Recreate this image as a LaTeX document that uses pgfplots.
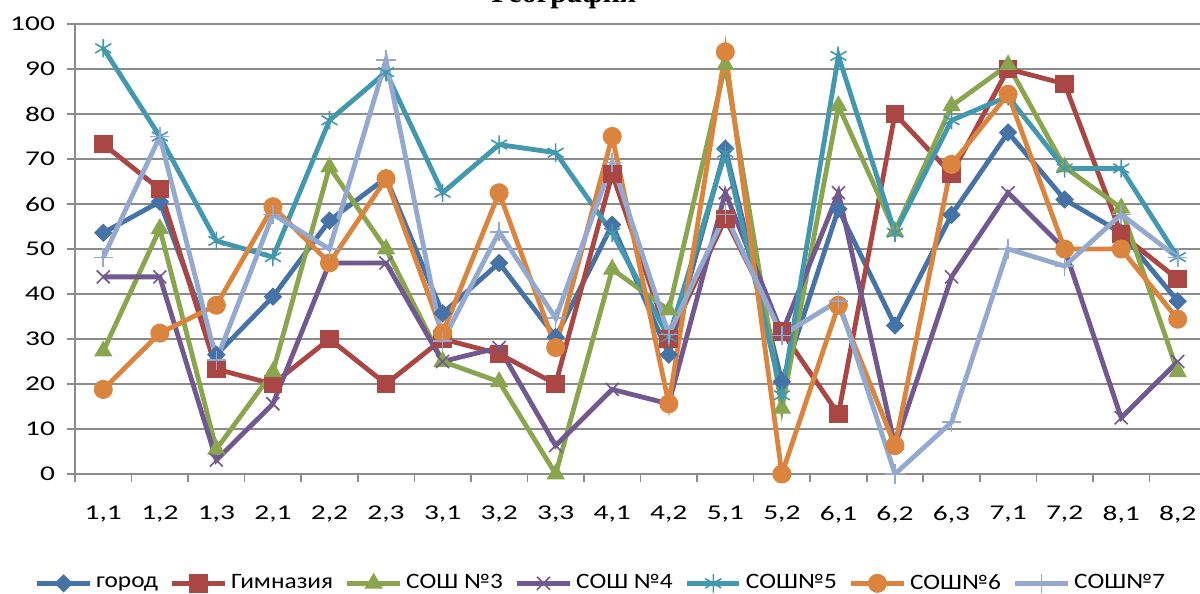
\documentclass[border=0pt]{standalone}
\usepackage{fontspec}
\setmainfont{Carlito}
\newfontfamily\widefont{Carlito}[FakeStretch=1.4]
\newfontfamily\legfont{Carlito}[FakeStretch=1.15]
\newfontfamily\titlefont{Liberation Serif}
\usepackage{pgfplots}
\pgfplotsset{compat=1.18}
\usepackage{pgfplotstable}

\definecolor{cgorod}{HTML}{4572A7}
\definecolor{cgimn}{HTML}{AA4643}
\definecolor{csthree}{HTML}{89A54E}
\definecolor{csfour}{HTML}{71588F}
\definecolor{csfive}{HTML}{4198AF}
\definecolor{csix}{HTML}{DB843D}
\definecolor{cseven}{HTML}{93A9CF}
\definecolor{cgrid}{HTML}{8C8C8C}

\pgfplotstableread{
x gorod gimn sthree sfour sfive ssix sseven
0  53.6 73.3 27.3 43.8 94.6 18.8 48.1
1  60.5 63.3 54.5 43.8 75.0 31.3 75.0
2  26.5 23.3 5.5  3.1  51.8 37.5 25.3
3  39.4 20.0 22.7 15.6 48.2 59.4 57.7
4  56.3 30.0 68.2 46.9 78.6 46.9 50.0
5  65.8 20.0 50.0 46.9 89.3 65.6 92.0
6  35.7 30.0 25.0 25.0 62.5 31.3 29.5
7  46.9 26.7 20.5 28.1 73.2 62.5 53.8
8  30.4 20.0 0.0  6.3  71.4 28.1 34.6
9  55.4 66.7 45.5 18.8 53.6 75.0 69.2
10 26.5 30.0 36.4 15.6 30.4 15.6 31.0
11 72.3 56.7 90.9 62.5 71.4 93.8 57.7
12 20.5 31.7 14.6 31.3 17.5 0.0  30.8
13 58.9 13.3 81.8 62.5 92.9 37.5 38.5
14 33.0 80.0 53.9 6.3  53.6 6.3  0.0
15 57.6 66.7 81.8 43.8 78.6 68.8 11.5
16 75.9 90.0 90.9 62.5 83.9 84.4 50.0
17 61.0 86.7 68.2 50.0 67.9 50.0 46.2
18 53.6 53.3 59.1 12.5 67.9 50.0 57.7
19 38.4 43.3 22.7 25.0 48.2 34.4 48.1
}\datatable

\begin{document}
\begin{tikzpicture}
\path[use as bounding box] (0,0) rectangle (600pt,297pt);
\node[anchor=base, font=\titlefont\bfseries\fontsize{15pt}{18pt}\selectfont] at (282pt,295.5pt) {География};
\begin{axis}[
  at={(37.5pt,60pt)}, anchor=south west,
  scale only axis, width=565.5pt, height=225pt,
  xmin=-0.5, xmax=19.5, ymin=0, ymax=100,
  axis x line=bottom, axis y line=left,
  axis line style={-, draw=cgrid, line width=0.8pt},
  ytick={0,10,...,100},
  xtick={0,...,19},
  xticklabels={{1,1},{1,2},{1,3},{2,1},{2,2},{2,3},{3,1},{3,2},{3,3},{4,1},{4,2},{5,1},{5,2},{6,1},{6,2},{6,3},{7,1},{7,2},{8,1},{8,2}},
  x tick style={draw=none},
  y tick style={draw=cgrid, line width=0.8pt},
  tick align=outside,
  major tick length=4pt,
  extra x ticks={-0.5,0.5,...,19.5},
  extra x tick labels={},
  extra x tick style={grid=none, x tick style={draw=cgrid, line width=0.8pt}, major tick length=4pt},
  ymajorgrids,
  grid style={draw=cgrid, line width=0.8pt},
  /pgf/number format/assume math mode=true,
  tick label style={font=\widefont\fontsize{10.5pt}{12pt}\selectfont, black},
  yticklabel style={xshift=-2.5pt},
  xticklabel style={yshift=-8.5pt},
  legend columns=-1,
  legend style={at={(axis description cs:0.466,-0.243)}, anchor=center, draw=none, fill=none,
    font=\legfont\fontsize{11pt}{13pt}\selectfont,
    /tikz/every even column/.append style={column sep=4pt}},
  legend image code/.code={\draw[mark repeat=2,mark phase=2] plot coordinates {(0cm,0cm) (0.46cm,0cm) (0.92cm,0cm)};},
  every axis plot/.append style={line width=2.4pt},
]
\addplot[cgorod, mark=square*, mark size=3pt, mark options={solid, line width=0.5pt, rotate=45}] table[x=x, y=gorod] {\datatable};
\addlegendentry{город}
\addplot[cgimn, mark=square*, mark size=4.4pt, mark options={solid, line width=0.5pt}] table[x=x, y=gimn] {\datatable};
\addlegendentry{Гимназия}
\addplot[csthree, mark=triangle*, mark size=4.8pt, mark options={solid, line width=0.5pt}] table[x=x, y=sthree] {\datatable};
\addlegendentry{СОШ №3}
\addplot[csfour, mark=x, mark size=4.6pt, mark options={solid, line width=0.8pt}] table[x=x, y=sfour] {\datatable};
\addlegendentry{СОШ №4}
\addplot[csfive, mark=asterisk, mark size=4.6pt, mark options={solid, line width=0.8pt}] table[x=x, y=sfive] {\datatable};
\addlegendentry{СОШ№5}
\addplot[csix, mark=*, mark size=4.5pt, mark options={solid, line width=0.5pt}] table[x=x, y=ssix] {\datatable};
\addlegendentry{СОШ№6}
\addplot[cseven, mark=+, mark size=4.8pt, mark options={solid, line width=0.8pt}] table[x=x, y=sseven] {\datatable};
\addlegendentry{СОШ№7}
\end{axis}
\end{tikzpicture}
\end{document}
